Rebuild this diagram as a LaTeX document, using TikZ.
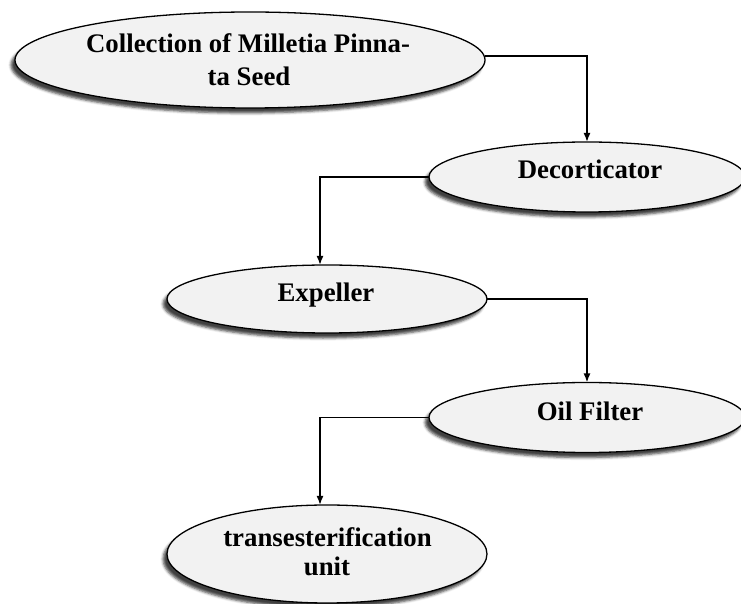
\documentclass[tikz,border=0pt]{standalone}
\usepackage{fontspec}
\setmainfont{Liberation Serif}
\usetikzlibrary{shapes.geometric,shadows.blur,arrows.meta}
\begin{document}
\begin{tikzpicture}[x=0.5pt,y=-0.5pt,
  stage/.style={ellipse, draw=black, line width=0.65pt, fill=gray!10,
    inner sep=0pt, outer sep=0pt,
    blur shadow={shadow xshift=-2pt, shadow yshift=-2.5pt,
      shadow blur radius=1.3pt, shadow opacity=75}},
  lbl/.style={anchor=base, inner sep=0pt,
    font=\fontsize{13.4}{16}\selectfont\bfseries},
  flow/.style={draw, line width=0.85pt, -{Latex[length=4.5pt,width=3.5pt]}}]
\useasboundingbox (0,0) rectangle (741,604);

\node[stage, minimum width=235pt, minimum height=48pt] (col) at (250,60) {};
\node[stage, minimum width=158pt, minimum height=35pt] (dec) at (587,177) {};
\node[stage, minimum width=160pt, minimum height=34pt] (exp) at (327,299) {};
\node[stage, minimum width=158pt, minimum height=35pt] (oil) at (587,417.5) {};
\node[stage, minimum width=160pt, minimum height=49pt] (tru) at (327,554) {};

\node[lbl] (colA) at (248,53) {Collection of Milletia Pinna-};
\node[lbl] (colB) at (249,86) {ta Seed};
\node[lbl] (decT) at (590,179) {Decorticator};
\node[lbl] (expT) at (326,302) {Expeller};
\node[lbl] (oilT) at (590,421) {Oil Filter};
\node[lbl] (truA) at (327.5,547) {transesterification};
\node[lbl] (truB) at (327,576) {unit};

\draw[flow] ([yshift=2pt]col.east) -| (dec.north);
\draw[flow] (dec.west) -| ([xshift=-3.5pt]exp.north);
\draw[flow] (exp.east) -| (oil.north);
\draw[flow] (oil.west) -| ([xshift=-3.5pt]tru.north);
\end{tikzpicture}
\end{document}
